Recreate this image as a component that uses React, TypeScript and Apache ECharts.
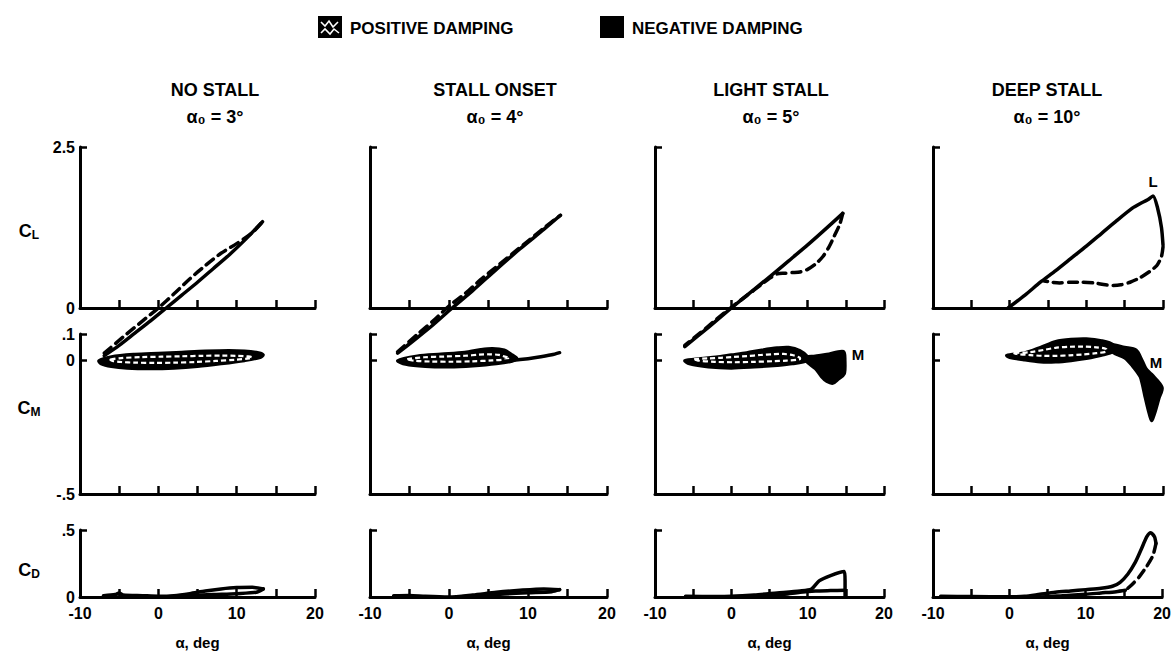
import React, { useEffect, useRef } from "react";
import * as echarts from "echarts";

// ---------- text / tick data ----------
const columnTitles = ["NO STALL", "STALL ONSET", "LIGHT STALL", "DEEP STALL"];
const meanAngles = ["3°", "4°", "5°", "10°"];
const rowSubscripts = ["L", "M", "D"];
const xTickValues = [-5, 0, 5, 10, 15, 20];
const xLabelValues = [-10, 0, 10, 20];
const clTicks = [0, 2.5];
const cmTicks = [-0.5, 0, 0.1];
const cdTicks = [0, 0.5];
const legendItems = ["POSITIVE DAMPING", "NEGATIVE DAMPING"];

// ---------- NO STALL ----------
const clSolid1 = [[-6.9, -0.74], [-5, -0.58], [-3, -0.39], [-1, -0.2], [1, 0], [3, 0.2], [5, 0.4], [7, 0.61], [9, 0.82], [11, 1.05], [13.3, 1.34]];
const clDash1 = [[-6.9, -0.7], [-4, -0.4], [-2, -0.2], [0, 0], [2, 0.22], [4, 0.45], [6, 0.66], [8, 0.85], [10, 1.0], [12, 1.17], [13.3, 1.34]];
const cmPos1 = [[-7.6, 0.0], [-6, 0.015], [-3, 0.024], [0, 0.028], [3, 0.032], [6, 0.036], [9, 0.038], [11, 0.036], [12.8, 0.03], [13.4, 0.022], [13, 0.012], [11, 0.0], [8, -0.012], [5, -0.022], [2, -0.028], [-1, -0.03], [-4, -0.028], [-6, -0.022], [-7.3, -0.012]];
const cdUp1 = [[-7, 0.01], [-5.5, 0.018], [-5, 0.03], [-4.5, 0.015], [-2, 0.01], [0, 0.006], [2, 0.01], [4, 0.025], [6, 0.045], [8, 0.06], [10, 0.07], [12, 0.072], [13.4, 0.06]];
const cdDown1 = [[13.4, 0.06], [12.5, 0.035], [10, 0.025], [7, 0.018], [4, 0.01], [1, 0.002], [-2, 0.0], [-5, 0.0], [-7, 0.005]];

// ---------- STALL ONSET ----------
const clSolid2 = [[-6.5, -0.7], [-4, -0.46], [-2, -0.26], [0.4, 0], [3, 0.27], [6, 0.6], [9, 0.92], [12, 1.22], [14.1, 1.44]];
const clDash2 = [[-6.5, -0.68], [-4, -0.41], [-2, -0.2], [0, 0.03], [2, 0.22], [4, 0.44], [6, 0.64], [8, 0.84], [10, 1.04], [12, 1.24], [14.1, 1.44]];
const cmPos2 = [[-6.5, 0.0], [-4, 0.018], [-1, 0.025], [2, 0.032], [4, 0.042], [5.5, 0.046], [7, 0.04], [8, 0.022], [8.6, 0.008], [8, -0.002], [6, -0.012], [3, -0.02], [0, -0.024], [-3, -0.022], [-5.5, -0.014]];
const cmTail2 = [[7, -0.002], [9, 0.004], [11, 0.012], [13, 0.022], [14, 0.03]];
const cdUp2 = [[-7, 0.01], [-5, 0.012], [-3, 0.005], [0, 0.0], [3, 0.015], [6, 0.035], [9, 0.05], [12, 0.06], [14, 0.055]];
const cdDown2 = [[14, 0.055], [13, 0.04], [10, 0.032], [7, 0.022], [4, 0.01], [1, 0.0]];

// ---------- LIGHT STALL ----------
const clSolid3 = [[-6.1, -0.6], [-3, -0.3], [0, 0], [3, 0.29], [6, 0.58], [8, 0.78], [10, 0.98], [12, 1.19], [14.6, 1.47]];
const clDash3 = [[14.6, 1.47], [14.2, 1.3], [13.5, 1.12], [12.8, 0.95], [12, 0.8], [11, 0.68], [10, 0.6], [9, 0.56], [8, 0.55], [7, 0.54], [6, 0.53], [5, 0.46], [4, 0.37], [2, 0.19], [0, 0.01], [-2, -0.18], [-4, -0.38], [-6.1, -0.58]];
const cmPos3 = [[-6.1, 0.0], [-4, 0.008], [-2, 0.014], [0, 0.022], [2, 0.03], [4, 0.04], [6, 0.048], [7.5, 0.05], [9, 0.038], [10, 0.015], [10, 0.0], [8, -0.012], [6, -0.018], [3, -0.024], [0, -0.028], [-3, -0.024], [-5.5, -0.012]];
const cmNeg3 = [[9.5, 0.012], [11, 0.018], [12.5, 0.024], [14.7, 0.035], [14.9, 0.0], [14.8, -0.05], [14, -0.07], [13.3, -0.085], [12.5, -0.078], [11.8, -0.06], [11, -0.03], [10, -0.008]];
const cdUp3 = [[-6, 0.005], [-2, 0.003], [0, 0.005], [3, 0.015], [6, 0.03], [9, 0.045], [10.5, 0.06], [11.5, 0.12], [13, 0.16], [14.8, 0.19], [14.9, 0.12], [14.9, 0.0]];
const cdDown3 = [[14.9, 0.05], [13, 0.048], [11, 0.045], [9, 0.035], [7, 0.02], [5, 0.01], [3, 0.005], [0, 0.002]];

// ---------- DEEP STALL ----------
const clSolid4 = [[-0.2, 0], [2, 0.2], [4, 0.4], [6, 0.58], [8, 0.77], [10, 0.96], [12, 1.16], [14, 1.36], [16, 1.55], [17, 1.62], [18, 1.68], [18.7, 1.74], [19.3, 1.55], [19.8, 1.25], [20, 0.98]];
const clDash4 = [[20, 0.95], [19.8, 0.8], [19.2, 0.66], [18.3, 0.57], [17, 0.47], [15.7, 0.4], [14.5, 0.36], [13.5, 0.35], [12.5, 0.36], [11, 0.39], [9.5, 0.4], [8, 0.4], [6.5, 0.39], [5.5, 0.4], [4.5, 0.42]];
const cmPos4 = [[-0.4, 0.02], [2, 0.03], [4, 0.05], [6, 0.072], [8, 0.08], [10, 0.082], [12, 0.075], [13.5, 0.06], [13.5, 0.035], [12, 0.02], [10, 0.008], [8, 0.0], [6, -0.005], [4, -0.005], [2, 0.002], [0, 0.012]];
const cmNeg4 = [[13.2, 0.06], [15, 0.05], [16.5, 0.04], [17.3, 0.0], [17.8, -0.03], [18.5, -0.05], [19.9, -0.1], [19.5, -0.14], [18.9, -0.2], [18.5, -0.225], [18.1, -0.19], [17.6, -0.13], [17.3, -0.09], [17, -0.06], [16, -0.02], [15, 0.01], [13.5, 0.03]];
const cdUp4 = [[-9, 0.005], [-5, 0.003], [0, 0.002], [2, 0.005], [4, 0.02], [6, 0.035], [8, 0.045], [10, 0.055], [12, 0.065], [13.5, 0.08], [14.5, 0.11], [15.5, 0.17], [16.5, 0.26], [17.3, 0.36], [18, 0.45], [18.5, 0.48], [19, 0.45], [19.2, 0.4]];
const cdDash4 = [[19.2, 0.4], [18.8, 0.31], [18, 0.23], [17, 0.15], [16, 0.09], [15.2, 0.05]];
const cdDown4 = [[15.2, 0.05], [14, 0.04], [12, 0.03], [10, 0.02], [7, 0.01], [4, 0.0], [2, 0.0]];

// ---------- layout ----------
const COL_LEFT = [80, 370, 655, 933];
const COL_WIDTH = [235, 237, 229, 230];
const ROW_TOP = [147, 334, 530];
const ROW_HEIGHT = [161, 160, 67];
const TITLE_X = [215, 495, 771, 1047];
const FONT = "'Liberation Sans', Arial, sans-serif";

type Pt = number[];

const columns = [
  { clSolid: clSolid1, clDash: [clDash1], cmPos: cmPos1, cmNeg: null, cmTail: null, cdSolid: [cdUp1, cdDown1], cdDash: [] },
  { clSolid: clSolid2, clDash: [clDash2], cmPos: cmPos2, cmNeg: null, cmTail: cmTail2, cdSolid: [cdUp2, cdDown2], cdDash: [] },
  { clSolid: clSolid3, clDash: [clDash3], cmPos: cmPos3, cmNeg: cmNeg3, cmTail: null, cdSolid: [cdUp3, cdDown3], cdDash: [] },
  { clSolid: clSolid4, clDash: [clDash4], cmPos: cmPos4, cmNeg: cmNeg4, cmTail: null, cdSolid: [cdUp4, cdDown4], cdDash: [cdDash4] },
];

const fmtTick = (v: number) => (v === 0 ? "0" : String(v).replace("0.", "."));

function lineSeries(g: number, pts: Pt[], dashed: boolean) {
  return {
    type: "line",
    xAxisIndex: g,
    yAxisIndex: g,
    data: pts,
    symbol: "none",
    showSymbol: false,
    clip: false,
    smooth: 0.25,
    silent: true,
    z: 4,
    lineStyle: { color: "#000", width: 3.5, type: dashed ? [9, 6] : "solid", cap: "round", join: "round" },
  };
}

function polySeries(g: number, pts: Pt[], positive: boolean) {
  return {
    type: "custom",
    coordinateSystem: "cartesian2d",
    xAxisIndex: g,
    yAxisIndex: g,
    data: [pts[0]],
    clip: false,
    silent: true,
    z: 3,
    renderItem: (_params: any, api: any) => {
      const pix = pts.map((p) => api.coord(p));
      const children: any[] = [
        {
          type: "polygon",
          shape: { points: pix, smooth: 0.3 },
          style: { fill: "#000", stroke: "#000", lineWidth: 3, lineJoin: "round" },
        },
      ];
      if (positive) {
        const cx = pix.reduce((s: number, p: number[]) => s + p[0], 0) / pix.length;
        const cy = pix.reduce((s: number, p: number[]) => s + p[1], 0) / pix.length;
        const inner = pix.map((p: number[]) => [cx + (p[0] - cx) * 0.86, cy + (p[1] - cy) * 0.4]);
        children.push({
          type: "polygon",
          shape: { points: inner, smooth: 0.3 },
          style: { fill: "transparent", stroke: "#fff", lineWidth: 2.2, lineDash: [5, 3] },
        });
      }
      return { type: "group", children };
    },
  };
}

function buildOption() {
  const grid: any[] = [];
  const xAxis: any[] = [];
  const yAxis: any[] = [];
  const series: any[] = [];
  const rowTicks = [clTicks, cmTicks, cdTicks];
  const rowTickMarks = [[2.5], [0, 0.1], [0.5]];

  for (let c = 0; c < 4; c++) {
    for (let r = 0; r < 3; r++) {
      const g = c * 3 + r;
      grid.push({ left: COL_LEFT[c], top: ROW_TOP[r], width: COL_WIDTH[c], height: ROW_HEIGHT[r], containLabel: false });
      xAxis.push({
        type: "value",
        gridIndex: g,
        min: -10,
        max: 20,
        interval: 5,
        axisLine: { show: true, onZero: false, lineStyle: { color: "#000", width: 3, cap: "round" } },
        axisTick: { show: true, inside: true, length: 8, customValues: xTickValues, lineStyle: { color: "#000", width: 2.5 } },
        axisLabel: {
          show: r === 2,
          customValues: xLabelValues,
          margin: 8,
          color: "#000",
          fontFamily: FONT,
          fontWeight: "bold",
          fontSize: 16,
        },
        splitLine: { show: false },
        name: r === 2 ? "α, deg" : "",
        nameLocation: "middle",
        nameGap: 38,
        nameTextStyle: { color: "#000", fontFamily: FONT, fontWeight: "bold", fontSize: 15 },
      });
      const ticks = rowTicks[r];
      yAxis.push({
        type: "value",
        gridIndex: g,
        min: ticks[0],
        max: ticks[ticks.length - 1],
        interval: r === 1 ? 0.1 : ticks[ticks.length - 1],
        axisLine: { show: true, onZero: false, lineStyle: { color: "#000", width: 3, cap: "round" } },
        axisTick: { show: true, inside: true, length: 7, customValues: rowTickMarks[r], lineStyle: { color: "#000", width: 2.5 } },
        axisLabel: {
          show: c === 0,
          customValues: ticks,
          formatter: (v: number) => fmtTick(v),
          margin: 5,
          color: "#000",
          fontFamily: FONT,
          fontWeight: "bold",
          fontSize: 16,
        },
        splitLine: { show: false },
      });
    }
    const col = columns[c];
    const gL = c * 3, gM = c * 3 + 1, gD = c * 3 + 2;
    // C_M loops
    series.push(polySeries(gM, col.cmPos, true));
    if (col.cmNeg) series.push(polySeries(gM, col.cmNeg, false));
    if (col.cmTail) series.push(lineSeries(gM, col.cmTail, false));
    // C_D
    col.cdSolid.forEach((pts) => series.push(lineSeries(gD, pts, false)));
    col.cdDash.forEach((pts) => series.push(lineSeries(gD, pts, true)));
    // C_L
    series.push(lineSeries(gL, col.clSolid, false));
    col.clDash.forEach((pts) => series.push(lineSeries(gL, pts, true)));
  }

  const graphic: any[] = [];
  // legend
  graphic.push({ type: "rect", shape: { x: 318, y: 16, width: 24, height: 22 }, style: { fill: "#000" } });
  graphic.push({ type: "polyline", shape: { points: [[321, 22], [325, 26], [329, 21], [333, 27], [338, 22]] }, style: { stroke: "#fff", lineWidth: 1.6, fill: null } });
  graphic.push({ type: "polyline", shape: { points: [[321, 33], [325, 29], [330, 34], [334, 29], [339, 33]] }, style: { stroke: "#fff", lineWidth: 1.6, fill: null } });
  graphic.push({ type: "text", x: 350, y: 28, style: { text: legendItems[0], fill: "#000", font: `bold 17px ${FONT}`, verticalAlign: "middle" } });
  graphic.push({ type: "rect", shape: { x: 600, y: 16, width: 24, height: 22 }, style: { fill: "#000" } });
  graphic.push({ type: "text", x: 632, y: 28, style: { text: legendItems[1], fill: "#000", font: `bold 17px ${FONT}`, verticalAlign: "middle" } });

  // column titles
  for (let c = 0; c < 4; c++) {
    graphic.push({ type: "text", x: TITLE_X[c], y: 90, style: { text: columnTitles[c], fill: "#000", font: `bold 18px ${FONT}`, align: "center", verticalAlign: "middle" } });
    graphic.push({ type: "text", x: TITLE_X[c], y: 117, style: { text: `α₀ = ${meanAngles[c]}`, fill: "#000", font: `bold 18px ${FONT}`, align: "center", verticalAlign: "middle" } });
  }
  // row labels
  const rowY = [231, 408, 570];
  for (let r = 0; r < 3; r++) {
    graphic.push({
      type: "text",
      x: 29,
      y: rowY[r],
      style: {
        text: `{c|C}{s|${rowSubscripts[r]}}`,
        align: "center",
        verticalAlign: "middle",
        rich: {
          c: { fontFamily: FONT, fontWeight: "bold", fontSize: 18, fill: "#000", color: "#000" },
          s: { fontFamily: FONT, fontWeight: "bold", fontSize: 12, fill: "#000", color: "#000", padding: [8, 0, 0, 0] },
        },
      },
    });
  }
  // curve annotations
  graphic.push({ type: "text", x: 1153, y: 181, style: { text: "L", fill: "#000", font: `bold 15px ${FONT}`, align: "center", verticalAlign: "middle" } });
  graphic.push({ type: "text", x: 858, y: 354, style: { text: "M", fill: "#000", font: `bold 15px ${FONT}`, align: "center", verticalAlign: "middle" } });
  graphic.push({ type: "text", x: 1156, y: 362, style: { text: "M", fill: "#000", font: `bold 15px ${FONT}`, align: "center", verticalAlign: "middle" } });

  return {
    animation: false,
    backgroundColor: "#fff",
    grid,
    xAxis,
    yAxis,
    series,
    graphic,
  };
}

export default function App() {
  const ref = useRef<HTMLDivElement>(null);
  useEffect(() => {
    document.body.style.margin = "0";
    if (!ref.current) return;
    const chart = echarts.init(ref.current, null, { renderer: "svg" });
    chart.setOption(buildOption() as any);
    return () => chart.dispose();
  }, []);
  return <div ref={ref} style={{ position: "absolute", left: 0, top: 0, width: 1174, height: 656, background: "#fff" }} />;
}
